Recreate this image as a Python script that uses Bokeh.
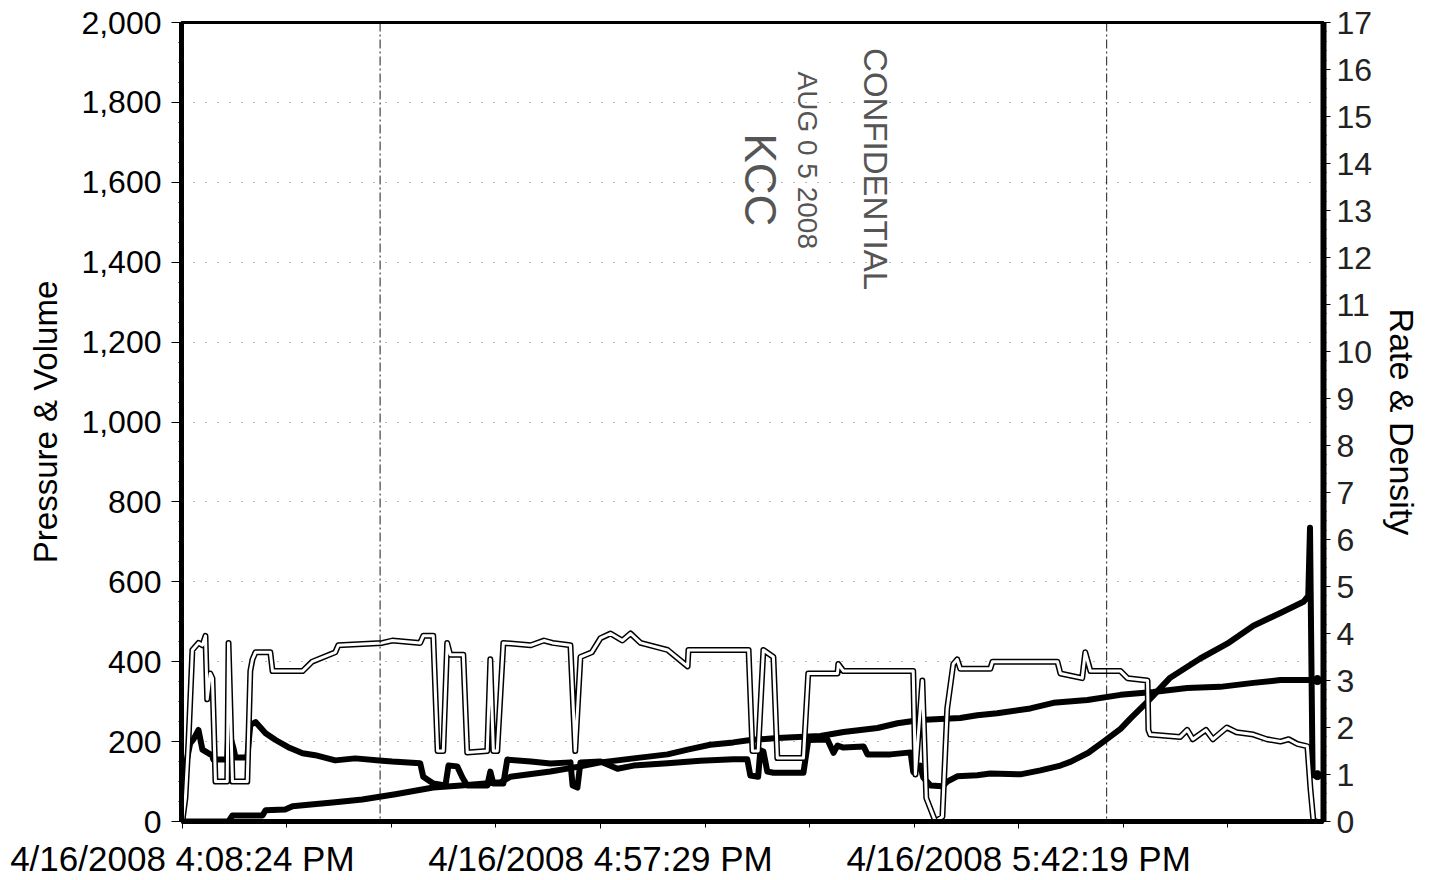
import math
from bokeh.plotting import figure
from bokeh.models import (Range1d, LinearAxis, FixedTicker, SingleIntervalTicker,
                          NumeralTickFormatter, Span, ColumnDataSource)
from bokeh.core.properties import value
from bokeh.embed import file_html
from bokeh.resources import INLINE

# ---------------- data (x = elapsed minutes from 4:08:24 PM) ----------------
x_tick_pos = [0, 48, 96]
x_tick_labels = ["4/16/2008 4:08:24 PM", "4/16/2008 4:57:29 PM", "4/16/2008 5:42:19 PM"]
x_minor_pos = [12, 24, 36, 60, 72, 84, 108, 120]

pressure_min = [0.0, 0.35, 0.9, 1.25, 1.85, 2.3, 3.45, 3.55, 5.15, 5.3, 5.5, 5.85, 6.1, 7.45,
                7.8, 8.4, 9.55, 10.7, 12.15, 13.8, 15.25, 17.55, 19.85, 22.95, 24.1, 27.3,
                27.65, 28.8, 30.2, 30.55, 31.55, 32.15, 32.7, 35.0, 35.35, 35.7, 36.85, 37.3,
                40.0, 42.25, 44.55, 44.8, 45.35, 45.7, 48.0, 49.95, 51.8, 55.7, 59.45, 63.25,
                64.85, 65.2, 66.1, 66.35, 66.7, 67.15, 67.85, 71.3, 71.85, 74.05, 74.75, 75.2,
                75.9, 78.2, 78.65, 81.3, 83.6, 83.9, 84.7, 85.05, 85.9, 87.25, 87.8, 88.95,
                91.25, 92.75, 96.2, 98.5, 100.8, 102.0, 104.0, 105.75, 107.7, 108.85, 110.8,
                113.4, 116.85, 119.95, 122.95, 126.05, 128.7, 129.25, 129.45, 129.75, 130.3]
pressure_psi = [0, 136, 196, 205, 229, 180, 165, 155, 155, 236, 211, 185, 160, 160,
                242, 249, 221, 204, 186, 171, 166, 153, 158, 152, 150, 146,
                112, 95, 90, 140, 138, 110, 90, 90, 125, 95, 95, 155,
                150, 145, 148, 90, 85, 148, 150, 132, 140, 146, 152, 156,
                156, 115, 112, 178, 175, 125, 122, 122, 204, 205, 172, 190,
                185, 188, 168, 168, 173, 124, 140, 110, 90, 88, 100, 113,
                116, 120, 118, 128, 140, 150, 172, 200, 232, 258, 300,
                360, 408, 445, 490, 522, 550, 565, 735, 116, 116]

volume_min = [0.0, 5.3, 5.75, 9.2, 9.55, 11.8, 12.65, 14.45, 17.55, 20.65, 24.45, 28.8,
              32.0, 36.5, 37.65, 42.25, 45.7, 48.0, 51.8, 55.7, 58.0, 60.6, 63.25, 65.2,
              68.3, 71.3, 73.25, 75.9, 79.8, 82.1, 84.7, 89.3, 91.25, 93.55, 97.35, 100.0,
              103.9, 107.7, 111.45, 115.35, 119.15, 122.95, 126.05, 130.3]
volume_bbl = [0, 0, 15, 15, 28, 30, 38, 42, 48, 55, 68, 85,
              90, 98, 112, 125, 138, 148, 158, 168, 180, 192, 198, 204,
              209, 212, 214, 224, 234, 246, 254, 259, 266, 271, 283, 297,
              304, 317, 324, 334, 337, 347, 354, 354]

rate_min = [0.0, 0.35, 0.7, 1.15, 1.85, 2.3, 2.65, 2.85, 3.2, 3.45, 3.8, 5.15, 5.3, 5.75,
            7.45, 7.8, 8.05, 8.4, 10.1, 10.35, 13.8, 14.9, 17.55, 17.9, 22.95, 24.1, 27.3,
            27.65, 28.8, 29.3, 29.95, 30.4, 30.75, 32.25, 32.7, 35.0, 35.35, 35.7, 36.15,
            36.85, 40.0, 41.5, 42.5, 44.55, 45.1, 45.7, 47.0, 48.0, 49.15, 50.5, 51.45,
            52.6, 55.7, 58.0, 58.1, 65.0, 65.45, 66.1, 66.7, 67.85, 68.3, 71.3, 71.85,
            75.2, 75.3, 75.9, 83.9, 84.15, 84.95, 85.4, 86.45, 87.25, 87.8, 88.5, 88.95,
            89.3, 92.75, 93.0, 97.0, 100.45, 100.8, 103.3, 103.65, 104.25, 107.7, 108.5,
            110.8, 110.9, 111.1, 114.55, 115.35, 116.0, 117.5, 118.3, 119.9, 121.0, 122.95,
            124.5, 126.05, 127.0, 128.0, 129.15, 129.5, 129.85, 130.3]
rate_bpm = [0.0, 0.5, 1.7, 3.65, 3.8, 3.75, 3.95, 2.6, 3.15, 3.05, 0.85, 0.85, 3.8, 0.85,
            0.85, 3.2, 3.45, 3.6, 3.6, 3.2, 3.2, 3.4, 3.6, 3.75, 3.8, 3.85, 3.8,
            3.95, 3.95, 1.5, 1.5, 3.8, 3.55, 3.55, 1.47, 1.5, 3.45, 1.5, 1.5,
            3.8, 3.75, 3.85, 3.8, 3.75, 1.5, 3.5, 3.6, 3.9, 4.0, 3.85, 4.0,
            3.8, 3.65, 3.3, 3.65, 3.65, 1.5, 1.5, 3.65, 3.5, 1.35, 1.35, 3.15,
            3.15, 3.35, 3.2, 3.2, 1.0, 3.0, 0.5, 0.0, 0.1, 2.4, 3.35, 3.45,
            3.25, 3.25, 3.4, 3.4, 3.4, 3.15, 3.05, 3.6, 3.2, 3.2, 3.05,
            3.0, 1.95, 1.85, 1.8, 1.95, 1.75, 1.95, 1.75, 2.0, 1.9, 1.85,
            1.75, 1.7, 1.75, 1.65, 1.6, 0.7, 0.0, 0.0]

fold_lines_min = [22.7, 106.1]

stamp_text = ["CONFIDENTIAL", "AUG  0  5  2008", "KCC"]
stamp_x = [79.6, 71.8, 66.4]
stamp_y = [1633, 1626, 1606]

# ---------------- figure ----------------
FONT = "Liberation Sans"
p = figure(frame_width=1142, frame_height=799,
           x_range=Range1d(-0.1, 131.0), y_range=Range1d(0, 2000),
           output_backend="svg", toolbar_location=None,
           min_border_left=181, min_border_right=98, min_border_top=22, min_border_bottom=56,
           background_fill_color="white", border_fill_color="white")
p.extra_y_ranges = {"rate": Range1d(0, 17)}
p.outline_line_color = "black"
p.outline_line_width = 3

# grids
p.xgrid.visible = False
p.ygrid.grid_line_color = "black"
p.ygrid.grid_line_alpha = 0.55
p.ygrid.grid_line_dash = "1 11"
p.ygrid.grid_line_width = 1

# x axis
xa = p.xaxis[0]
xa.ticker = FixedTicker(ticks=x_tick_pos, minor_ticks=x_minor_pos)
xa.major_label_overrides = {t: l for t, l in zip(x_tick_pos, x_tick_labels)}
xa.major_label_text_font = FONT
xa.major_label_text_font_size = "35px"
xa.major_label_text_color = "black"
xa.major_label_standoff = 10
xa.axis_line_width = 5
xa.axis_line_color = "black"
xa.major_tick_in = 0
xa.major_tick_out = 7
xa.minor_tick_in = 0
xa.minor_tick_out = 6
xa.major_tick_line_color = "black"
xa.minor_tick_line_color = "black"

# left axis
ya = p.yaxis[0]
ya.ticker = SingleIntervalTicker(interval=200, num_minor_ticks=4)
ya.formatter = NumeralTickFormatter(format="0,0")
ya.axis_label = "Pressure & Volume"
ya.axis_label_text_font = FONT
ya.axis_label_text_font_size = "33px"
ya.axis_label_text_font_style = "normal"
ya.axis_label_text_color = "black"
ya.axis_label_standoff = 14
ya.major_label_text_font = FONT
ya.major_label_text_font_size = "32px"
ya.major_label_text_color = "black"
ya.major_label_standoff = 10
ya.axis_line_width = 5
ya.major_tick_in = 0
ya.major_tick_out = 10
ya.minor_tick_in = 0
ya.minor_tick_out = 3

# right axis
ra = LinearAxis(y_range_name="rate", ticker=SingleIntervalTicker(interval=1, num_minor_ticks=5),
                axis_label="Rate & Density")
ra.axis_label_text_font = FONT
ra.axis_label_text_font_size = "34px"
ra.axis_label_text_font_style = "normal"
ra.axis_label_text_color = "black"
ra.axis_label_standoff = 8
ra.major_label_text_font = FONT
ra.major_label_text_font_size = "32px"
ra.major_label_text_color = "#222222"
ra.major_label_standoff = 6
ra.axis_line_width = 6
ra.major_tick_in = 0
ra.major_tick_out = 7
ra.minor_tick_in = 0
ra.minor_tick_out = 3
p.add_layout(ra, "right")

# fold lines (dash-dot)
for fx in fold_lines_min:
    p.add_layout(Span(location=fx, dimension="height", line_color="black",
                      line_alpha=0.75, line_width=1.2, line_dash="9 3 2 3"))

# series: pressure & volume (left axis), thick black
p.line(volume_min, volume_bbl, line_color="black", line_width=6, line_join="round")
p.line(pressure_min, pressure_psi, line_color="black", line_width=6, line_join="round")
p.scatter([pressure_min[-1]], [pressure_psi[-1]], size=9, color="black")
p.scatter([volume_min[-1]], [volume_bbl[-1]], size=9, color="black")

# series: rate (right axis), hollow line
p.line(rate_min, rate_bpm, y_range_name="rate", line_color="black", line_width=6,
       line_join="round")
p.line(rate_min, rate_bpm, y_range_name="rate", line_color="white", line_width=3,
       line_join="round")

# stamp
src = ColumnDataSource(dict(x=stamp_x, y=stamp_y, t=stamp_text, s=["33px", "28px", "44px"]))
p.text(x="x", y="y", text="t", source=src, angle=-math.pi / 2,
       text_font=value(FONT), text_font_size="s", text_color="#555555",
       text_align="center", text_baseline="middle")

open("out.html", "w").write(file_html(p, INLINE))
